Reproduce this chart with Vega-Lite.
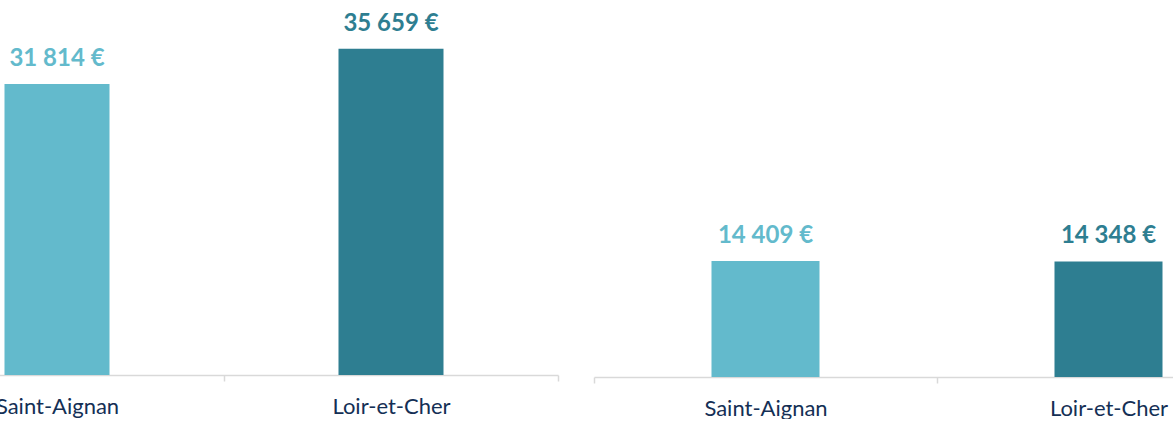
{
  "$schema": "https://vega.github.io/schema/vega-lite/v6.json",
  "padding": {"left": -111, "right": -106, "top": 0, "bottom": 0},
  "autosize": {"type": "pad"},
  "background": "white",
  "config": {
    "view": {"stroke": null},
    "font": "Lato",
    "locale": {"number": {"decimal": ",", "thousands": " ", "grouping": [3], "currency": ["", " €"]}},
    "axisX": {
      "domainColor": "#D9D9D9", "domainWidth": 1.5,
      "tickColor": "#D9D9D9", "tickWidth": 1.5, "tickSize": 6,
      "labelFont": "Lato", "labelFontSize": 22, "labelColor": "#142F55",
      "labelPadding": 15, "labelAngle": 0, "title": null, "tickBand": "extent", "grid": false
    }
  },
  "data": {"values": [
    {"panel": "A", "place": "Saint-Aignan", "value": 31814},
    {"panel": "A", "place": "Loir-et-Cher", "value": 35659},
    {"panel": "B", "place": "Saint-Aignan", "value": 14409},
    {"panel": "B", "place": "Loir-et-Cher", "value": 14348}
  ]},
  "spacing": 36,
  "bounds": "flush",
  "hconcat": [
    {
      "width": 668, "height": 375,
      "transform": [{"filter": "datum.panel == 'A'"}],
      "encoding": {
        "x": {"field": "place", "type": "nominal", "sort": ["Saint-Aignan", "Loir-et-Cher"],
              "scale": {"paddingInner": 0, "paddingOuter": 0}},
        "y": {"field": "value", "type": "quantitative", "scale": {"domain": [0, 41000], "nice": false}, "axis": null},
        "color": {"field": "place", "type": "nominal", "scale": {"domain": ["Saint-Aignan", "Loir-et-Cher"], "range": ["#63BACC", "#2E7E91"]}, "legend": null}
      },
      "layer": [
        {"mark": {"type": "bar", "width": {"band": 0.3144}}},
        {"mark": {"type": "text", "font": "Lato", "fontSize": 24, "fontWeight": "bold", "baseline": "alphabetic", "dy": -18},
         "encoding": {"text": {"field": "value", "type": "quantitative", "format": "$,.0f"}}}
      ]
    },
    {
      "width": 686, "height": 377,
      "transform": [{"filter": "datum.panel == 'B'"}],
      "encoding": {
        "x": {"field": "place", "type": "nominal", "sort": ["Saint-Aignan", "Loir-et-Cher"],
              "scale": {"paddingInner": 0, "paddingOuter": 0}},
        "y": {"field": "value", "type": "quantitative", "scale": {"domain": [0, 46800], "nice": false}, "axis": null},
        "color": {"field": "place", "type": "nominal", "scale": {"domain": ["Saint-Aignan", "Loir-et-Cher"], "range": ["#63BACC", "#2E7E91"]}, "legend": null}
      },
      "layer": [
        {"mark": {"type": "bar", "width": {"band": 0.3149}}},
        {"mark": {"type": "text", "font": "Lato", "fontSize": 24, "fontWeight": "bold", "baseline": "alphabetic", "dy": -18},
         "encoding": {"text": {"field": "value", "type": "quantitative", "format": "$,.0f"}}}
      ]
    }
  ],
  "resolve": {"scale": {"color": "shared"}}
}
